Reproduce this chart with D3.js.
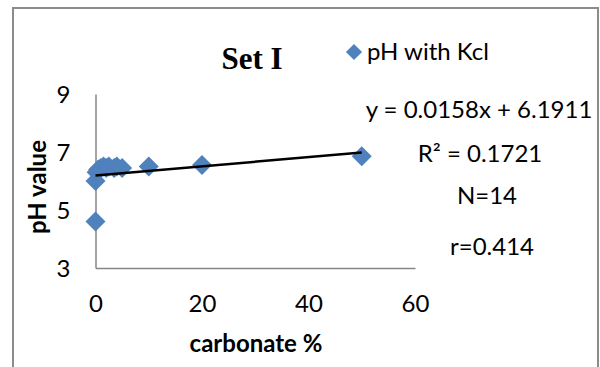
<!DOCTYPE html>
<html><head><meta charset="utf-8">
<script src="https://cdn.jsdelivr.net/npm/d3@7"></script>
<style>html,body{margin:0;padding:0;background:#fff;overflow:hidden}</style>
</head><body>
<svg id="chart" width="600" height="367"></svg>
<script>
const carbonate = [0, 0, 0.2, 0.5, 1, 1.5, 2, 2.5, 3.5, 4, 5, 10, 20, 50];
const phKcl = [4.6, 6.0, 6.3, 6.4, 6.45, 6.5, 6.45, 6.5, 6.45, 6.5, 6.45, 6.5, 6.55, 6.85];
const xTicks = [0, 20, 40, 60];
const yTicks = [3, 5, 7, 9];
const trendSlope = 0.0158, trendIntercept = 6.1911;
const trendRange = [0, 50];
const title = "Set I";
const seriesName = "pH with Kcl";
const xTitle = "carbonate %";
const yTitle = "pH value";
const annotations = ["y = 0.0158x + 6.1911", "R² = 0.1721", "N=14", "r=0.414"];

const svg = d3.select("#chart");
const font = "Lato, 'Open Sans', sans-serif";
const axisColor = "#868686";
const markColor = "#4F81BD";

// outer frame
svg.append("rect").attr("x", 13).attr("y", 8).attr("width", 585).attr("height", 400)
  .attr("fill", "#fff").attr("stroke", "#8c8c8c").attr("stroke-width", 2);

const x = d3.scaleLinear().domain([0, 60]).range([95.5, 415]);
const y = d3.scaleLinear().domain([3, 9]).range([268, 94]);

// axes
const xAxis = d3.axisBottom(x).tickValues(xTicks).tickFormat(d3.format("d")).tickSize(0).tickPadding(44);
const yAxis = d3.axisLeft(y).tickValues(yTicks).tickFormat(d3.format("d")).tickSize(0).tickPadding(25);
const gx = svg.append("g").attr("transform", `translate(0,${y(3)})`).call(xAxis);
const gy = svg.append("g").attr("transform", `translate(${x(0)},0)`).call(yAxis);
[gx, gy].forEach(g => {
  g.select(".domain").attr("stroke", axisColor).attr("stroke-width", 1.5);
  g.selectAll("text").attr("font-family", font).attr("font-size", 24).attr("fill", "#000");
});
gx.selectAll("text").attr("dy", "0");
gy.selectAll("text").attr("dy", "0.36em");

// points
const diamond = d3.symbol().type(d3.symbolSquare).size(200);
svg.append("g").selectAll("path").data(carbonate.map((c, i) => [c, phKcl[i]])).join("path")
  .attr("d", diamond)
  .attr("transform", d => `translate(${x(d[0])},${y(d[1])}) rotate(45)`)
  .attr("fill", markColor);

// trendline (drawn on top of markers)
svg.append("line")
  .attr("x1", x(trendRange[0])).attr("y1", y(trendIntercept + trendSlope * trendRange[0]))
  .attr("x2", x(trendRange[1])).attr("y2", y(trendIntercept + trendSlope * trendRange[1]))
  .attr("stroke", "#000").attr("stroke-width", 2.5);

// title
svg.append("text").attr("x", 252).attr("y", 69).attr("text-anchor", "middle")
  .attr("font-family", "'Liberation Serif', 'Times New Roman', serif").attr("font-weight", "bold")
  .attr("font-size", 31).text(title);

// legend
svg.append("path").attr("d", d3.symbol().type(d3.symbolSquare).size(130)())
  .attr("transform", "translate(354,52) rotate(45)").attr("fill", markColor);
svg.append("text").attr("x", 367).attr("y", 60).attr("font-family", font).attr("font-size", 24)
  .text(seriesName);

// annotations
const annPos = [[479, 118], [480, 162], [487, 204], [492, 255]];
svg.append("g").selectAll("text").data(annotations).join("text")
  .attr("x", (d, i) => annPos[i][0]).attr("y", (d, i) => annPos[i][1])
  .attr("text-anchor", "middle").attr("font-family", font).attr("font-size", 24)
  .text(d => d);

// axis titles
svg.append("text").attr("x", 256).attr("y", 352).attr("text-anchor", "middle")
  .attr("font-family", font).attr("font-weight", "bold").attr("font-size", 24).text(xTitle);
svg.append("text").attr("transform", "translate(46,187) rotate(-90)").attr("text-anchor", "middle")
  .attr("font-family", font).attr("font-weight", "bold").attr("font-size", 24).text(yTitle);
</script>
</body></html>
